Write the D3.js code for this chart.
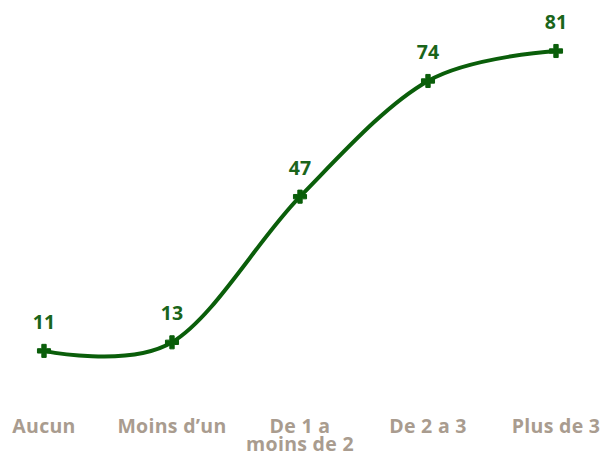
<!DOCTYPE html>
<html><head><meta charset="utf-8">
<script src="https://cdn.jsdelivr.net/npm/d3@7"></script>
<style>body{margin:0;background:#fff}svg{display:block}</style>
</head><body>
<script>
const categories = ["Aucun", "Moins d\u2019un", "De 1 a\nmoins de 2", "De 2 a 3", "Plus de 3"];
const values = [11, 13, 47, 74, 81];

const W = 608, H = 460;
const svg = d3.select("body").append("svg").attr("width", W).attr("height", H);
const x = d3.scalePoint().domain(categories).range([44, 556]);
const y = d3.scaleLinear().domain([0, 81]).range([398, 51]);
const data = categories.map((c, i) => ({c, v: values[i]}));

const line = d3.line().x(d => x(d.c)).y(d => y(d.v)).curve(d3.curveCardinal.tension(0));
svg.append("path").datum(data).attr("d", line)
  .attr("fill", "none").attr("stroke", "#0a5e0a").attr("stroke-width", 4);

svg.selectAll(".m").data(data).enter().append("path")
  .attr("d", d3.symbol(d3.symbolCross, 95))
  .attr("transform", d => `translate(${x(d.c)},${y(d.v)})`)
  .attr("fill", "#0a5e0a").attr("stroke", "#0a5e0a").attr("stroke-width", 1);

svg.selectAll(".v").data(data).enter().append("text")
  .attr("x", d => x(d.c)).attr("y", d => y(d.v) - 22)
  .attr("text-anchor", "middle")
  .attr("font-family", "'Open Sans'").attr("font-weight", "bold").attr("font-size", 19.5)
  .attr("fill", "#1a651a").text(d => d.v);

const lab = svg.selectAll(".x").data(categories).enter().append("text")
  .attr("x", d => x(d)).attr("y", 433)
  .attr("text-anchor", "middle")
  .attr("font-family", "'Open Sans'").attr("font-weight", "bold").attr("font-size", 19.5)
  .attr("letter-spacing", 0.3)
  .attr("fill", "#a99c8f");
lab.each(function(d) {
  const t = d3.select(this);
  d.split("\n").forEach((s, i) => {
    t.append("tspan").attr("x", x(d)).attr("dy", i ? 18 : 0).text(s);
  });
});
</script>
</body></html>
